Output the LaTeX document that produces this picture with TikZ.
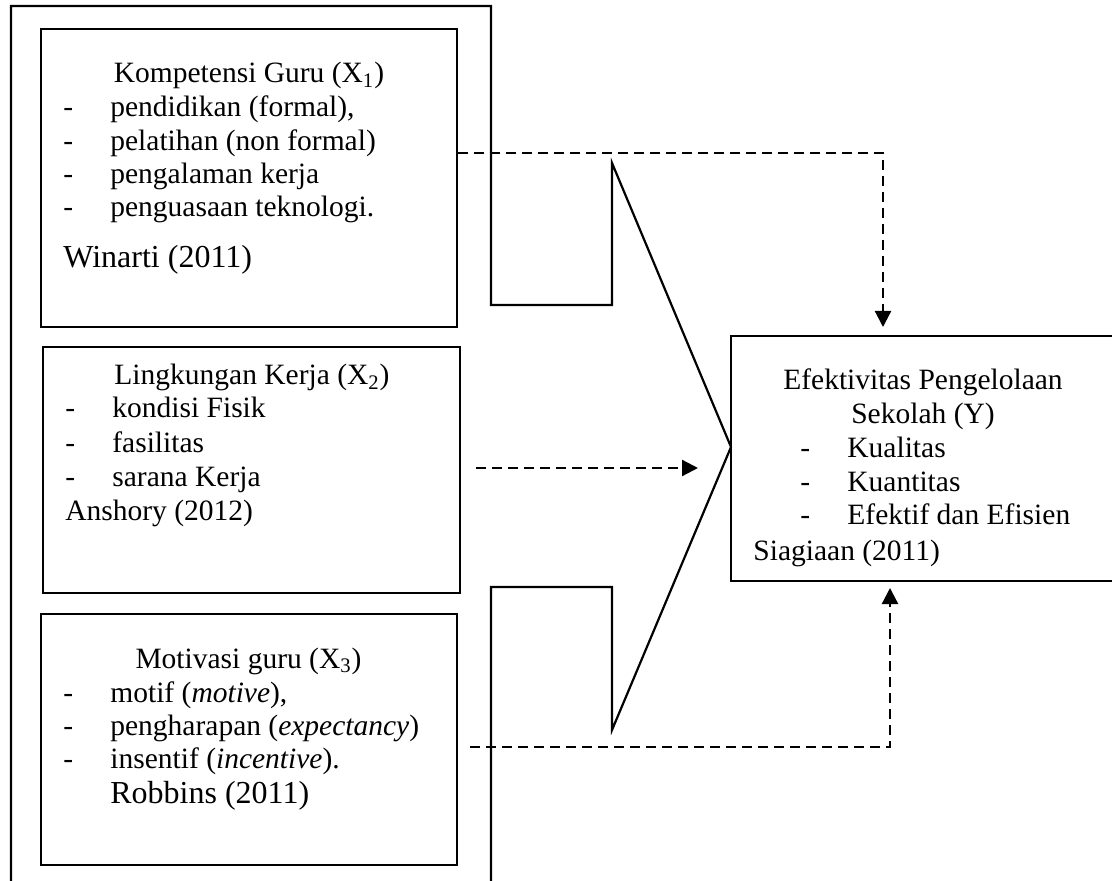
\documentclass[tikz,border=0pt]{standalone}
\usepackage{fontspec}
\setmainfont{Liberation Serif}
\usetikzlibrary{arrows.meta}
\newcommand{\poin}[1]{\makebox[23.5pt][l]{-}#1}
\tikzset{
    box/.style={draw, line width=1.1pt, inner sep=0pt},
    txt/.style={anchor=base west, inner sep=0pt, font=\fontsize{14.75}{17}\selectfont},
    ttl/.style={txt, anchor=base},
    cite/.style={txt, font=\fontsize{16}{19}\selectfont},
    dline/.style={line width=1.1pt, dash pattern=on 5pt off 3pt, -{Triangle[length=8pt,width=8pt]}}
}
\begin{document}
\begin{tikzpicture}[x=0.5pt, y=-0.5pt]
        \useasboundingbox (0,0) rectangle (1112,881);
        \clip (0,0) rectangle (1112,881);
        % big arrow outline
        \draw[line width=1.1pt] (11,890) -- (11,6) -- (491,6) -- (491,305) -- (612,305) -- (612,163)
            -- (731,447) -- (612,730) -- (612,587) -- (491,587) -- (491,890);
        % X1
        \node[box, minimum width=208pt, minimum height=149pt] (x1) at (249,178) {};
        \node[ttl] (k1) at (249,83) {Kompetensi Guru (X\textsubscript{1})};
        \node[txt] (k1a) at (63,117) {\poin{pendidikan (formal),}};
        \node[txt] (k1b) at (63,151) {\poin{pelatihan (non formal)}};
        \node[txt] (k1c) at (63,184) {\poin{pengalaman kerja}};
        \node[txt] (k1d) at (63,217) {\poin{penguasaan teknologi.}};
        \node[cite] (k1r) at (63,268) {Winarti (2011)};
        % X2
        \node[box, minimum width=208.5pt, minimum height=123pt] (x2) at (251.5,470) {};
        \node[ttl] (l2) at (252,385) {Lingkungan Kerja (X\textsubscript{2})};
        \node[txt] (l2a) at (65,418) {\poin{kondisi Fisik}};
        \node[txt] (l2b) at (65,452) {\poin{fasilitas}};
        \node[txt] (l2c) at (65,486) {\poin{sarana Kerja}};
        \node[txt] (l2r) at (65,520) {Anshory (2012)};
        % X3
        \node[box, minimum width=208pt, minimum height=125.5pt] (x3) at (249,739.5) {};
        \node[ttl] (m3) at (248.5,668) {Motivasi guru (X\textsubscript{3})};
        \node[txt] (m3a) at (63,702) {\poin{motif (\textit{motive}),}};
        \node[txt] (m3b) at (63,735) {\poin{pengharapan (\textit{expectancy})}};
        \node[txt] (m3c) at (63,768) {\poin{insentif (\textit{incentive}).}};
        \node[cite] (m3r) at (110,803) {Robbins (2011)};
        % Y
        \node[box, minimum width=199.5pt, minimum height=122.5pt] (y) at (930.5,458.5) {};
        \node[ttl] (e1) at (923,390) {Efektivitas Pengelolaan};
        \node[ttl] (e2) at (923,423) {Sekolah (Y)};
        \node[txt] (ya) at (800,458) {\poin{Kualitas}};
        \node[txt] (yb) at (800,491) {\poin{Kuantitas}};
        \node[txt] (yc) at (800,524) {\poin{Efektif dan Efisien}};
        \node[txt] (yr) at (753,560) {Siagiaan (2011)};
        % dashed links
        \coordinate (s1) at (0,153);
        \coordinate (t1) at (883,327);
        \coordinate (s2) at (476,468);
        \coordinate (t2) at (698,468);
        \coordinate (s3) at (470,747);
        \coordinate (t3) at (890,588);
        \draw[dline] (x1.east |- s1) -| (t1);
        \draw[dline] (s2) -- (t2);
        \draw[dline] (s3) -| (t3);
    \end{tikzpicture}
\end{document}
